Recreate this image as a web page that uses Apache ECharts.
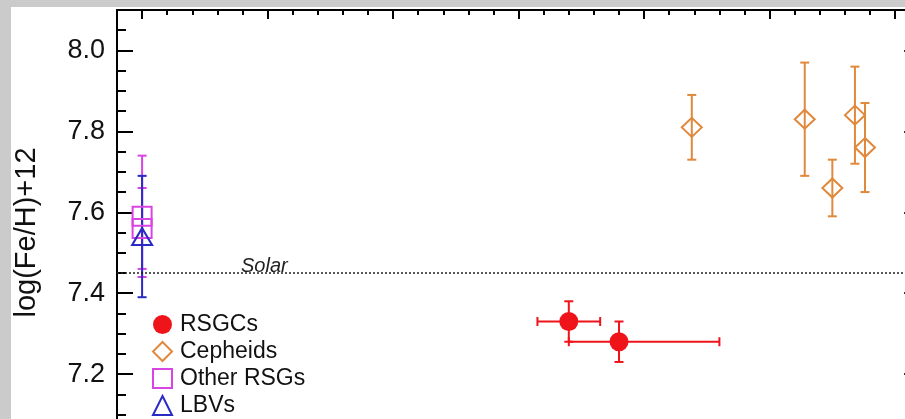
<!DOCTYPE html>
<html>
<head>
<meta charset="utf-8">
<script src="https://cdn.jsdelivr.net/npm/echarts@6/dist/echarts.min.js"></script>
<style>
  html, body { margin: 0; padding: 0; width: 905px; height: 419px; overflow: hidden; background: #cbcbcb; }
  #chart { position: absolute; left: 11px; top: 7px; width: 960px; height: 480px; background: #ffffff; }
</style>
</head>
<body>
<div id="chart"></div>
<script>
// Iron abundance against Galactocentric distance (kpc)
const rsgcX      = [3.40, 3.80];
const rsgcXLow   = [3.15, 3.40];
const rsgcXHigh  = [3.65, 4.60];
const rsgcY      = [7.33, 7.28];
const rsgcYErr   = [0.05, 0.05];

const cepheidX    = [4.38, 5.28, 5.50, 5.68, 5.76];
const cepheidY    = [7.81, 7.83, 7.66, 7.84, 7.76];
const cepheidYErr = [0.08, 0.14, 0.07, 0.12, 0.11];

const otherRsgX    = [0, 0];
const otherRsgY    = [7.59, 7.56];
const otherRsgYErr = [0.15, 0.10];

const lbvX    = [0];
const lbvY    = [7.54];
const lbvYErr = [0.15];

const solarFe = 7.45;

const yMajorTicks = [7.0, 7.2, 7.4, 7.6, 7.8, 8.0];
const xMajorTicks = [0, 1, 2, 3, 4, 5, 6];

const FONT = 'Liberation Sans, Arial, Helvetica, sans-serif';
const C_RED = '#ee1419';
const C_ORANGE = '#e0883c';
const C_MAGENTA = '#d945e3';
const C_BLUE = '#2a2ac4';

// rows: [x, y, xLow, xHigh, yLow, yHigh]
function rows(xs, ys, yErr, xLow, xHigh) {
  return xs.map((x, i) => [
    x, ys[i],
    xLow ? xLow[i] : x, xHigh ? xHigh[i] : x,
    ys[i] - yErr[i], ys[i] + yErr[i]
  ]);
}

function errorBars(color, data, z) {
  return {
    type: 'custom',
    z: z,
    silent: true,
    data: data,
    encode: { x: 0, y: 1 },
    renderItem: function (params, api) {
      const x = api.value(0), y = api.value(1);
      const xLo = api.value(2), xHi = api.value(3);
      const yLo = api.value(4), yHi = api.value(5);
      const style = { stroke: color, lineWidth: 2, fill: null };
      const cap = 4.5;
      const children = [];
      if (yLo !== yHi) {
        const a = api.coord([x, yLo]), b = api.coord([x, yHi]);
        children.push({ type: 'line', shape: { x1: a[0], y1: a[1], x2: b[0], y2: b[1] }, style });
        children.push({ type: 'line', shape: { x1: a[0] - cap, y1: a[1], x2: a[0] + cap, y2: a[1] }, style });
        children.push({ type: 'line', shape: { x1: b[0] - cap, y1: b[1], x2: b[0] + cap, y2: b[1] }, style });
      }
      if (xLo !== xHi) {
        const a = api.coord([xLo, y]), b = api.coord([xHi, y]);
        children.push({ type: 'line', shape: { x1: a[0], y1: a[1], x2: b[0], y2: b[1] }, style });
        children.push({ type: 'line', shape: { x1: a[0], y1: a[1] - cap, x2: a[0], y2: a[1] + cap }, style });
        children.push({ type: 'line', shape: { x1: b[0], y1: b[1] - cap, x2: b[0], y2: b[1] + cap }, style });
      }
      return { type: 'group', children };
    }
  };
}

const axisLine = { show: true, onZero: false, lineStyle: { color: '#000', width: 2 } };
const noLine = { show: false, onZero: false };
const tickStyle = { color: '#000', width: 2 };

function xAxisPair(position, withLabels) {
  return [
    {
      type: 'value', position, min: -0.2, max: 6.2,
      axisLine,
      axisTick: { inside: true, length: 9, customValues: xMajorTicks, lineStyle: tickStyle },
      axisLabel: { show: withLabels, customValues: xMajorTicks, fontFamily: FONT, fontSize: 26, color: '#111' },
      splitLine: { show: false }
    },
    {
      type: 'value', position, min: -0.2, max: 6.2, interval: 0.2,
      axisLine: noLine,
      axisTick: { inside: true, length: 5, lineStyle: tickStyle },
      axisLabel: { show: false },
      splitLine: { show: false }
    }
  ];
}

function yAxisPair(position, withLabels) {
  const major = {
    type: 'value', position, min: 7.0, max: 8.1,
    axisLine,
    axisTick: { inside: true, length: 16, customValues: yMajorTicks, lineStyle: tickStyle },
    axisLabel: {
      show: withLabels, customValues: yMajorTicks, margin: 12,
      formatter: v => v.toFixed(1), fontFamily: FONT, fontSize: 27, color: '#111'
    },
    splitLine: { show: false }
  };
  if (withLabels) {
    Object.assign(major, {
      name: 'log(Fe/H)+12', nameLocation: 'middle', nameRotate: 90, nameGap: 76,
      nameTextStyle: { fontFamily: FONT, fontSize: 29, color: '#111' }
    });
  }
  return [
    major,
    {
      type: 'value', position, min: 7.0, max: 8.1, interval: 0.05,
      axisLine: noLine,
      axisTick: { inside: true, length: 9, lineStyle: tickStyle },
      axisLabel: { show: false },
      splitLine: { show: false }
    }
  ];
}

const chart = echarts.init(document.getElementById('chart'), null, { renderer: 'canvas' });

chart.setOption({
  animation: false,
  grid: { left: 106, top: 3, width: 803.2, height: 445, containLabel: false, outerBoundsMode: 'none' },
  xAxis: [...xAxisPair('bottom', true), ...xAxisPair('top', false)],
  yAxis: [...yAxisPair('left', true), ...yAxisPair('right', false)],
  legend: {
    orient: 'vertical', left: 141, top: 306, padding: 0,
    itemGap: 4, itemWidth: 19, itemHeight: 19,
    textStyle: { fontFamily: FONT, fontSize: 23, color: '#111', lineHeight: 19, padding: [0, 0, 0, 3] },
    data: [
      { name: 'RSGCs', icon: 'circle' },
      { name: 'Cepheids', icon: 'diamond' },
      { name: 'Other RSGs', icon: 'rect' },
      { name: 'LBVs', icon: 'triangle' }
    ]
  },
  series: [
    errorBars(C_MAGENTA, rows(otherRsgX, otherRsgY, otherRsgYErr), 2),
    errorBars(C_BLUE, rows(lbvX, lbvY, lbvYErr), 2),
    errorBars(C_ORANGE, rows(cepheidX, cepheidY, cepheidYErr), 2),
    errorBars(C_RED, rows(rsgcX, rsgcY, rsgcYErr, rsgcXLow, rsgcXHigh), 2),
    {
      name: 'RSGCs', type: 'scatter', z: 5,
      symbol: 'circle', symbolSize: 19,
      itemStyle: { color: C_RED, opacity: 1 },
      data: rsgcX.map((x, i) => [x, rsgcY[i]]),
      markLine: {
        silent: true, symbol: 'none', animation: false,
        lineStyle: { type: [2, 2], width: 1.5, color: '#222' },
        label: {
          show: true, position: 'insideStartTop', formatter: 'Solar',
          distance: [124, -3], fontFamily: FONT, fontStyle: 'italic', fontSize: 20, color: '#222'
        },
        data: [{ yAxis: solarFe }]
      }
    },
    {
      name: 'Cepheids', type: 'scatter', z: 5,
      symbol: 'diamond', symbolSize: [20, 19],
      itemStyle: { color: 'transparent', borderColor: C_ORANGE, borderWidth: 2, opacity: 1 },
      data: cepheidX.map((x, i) => [x, cepheidY[i]])
    },
    {
      name: 'Other RSGs', type: 'scatter', z: 5,
      symbol: 'rect', symbolSize: 19,
      itemStyle: { color: 'transparent', borderColor: C_MAGENTA, borderWidth: 2, opacity: 1 },
      data: otherRsgX.map((x, i) => [x, otherRsgY[i]])
    },
    {
      name: 'LBVs', type: 'scatter', z: 6,
      symbol: 'triangle', symbolSize: [20, 17],
      itemStyle: { color: 'transparent', borderColor: C_BLUE, borderWidth: 2, opacity: 1 },
      data: lbvX.map((x, i) => [x, lbvY[i]])
    }
  ]
});
</script>
</body>
</html>
